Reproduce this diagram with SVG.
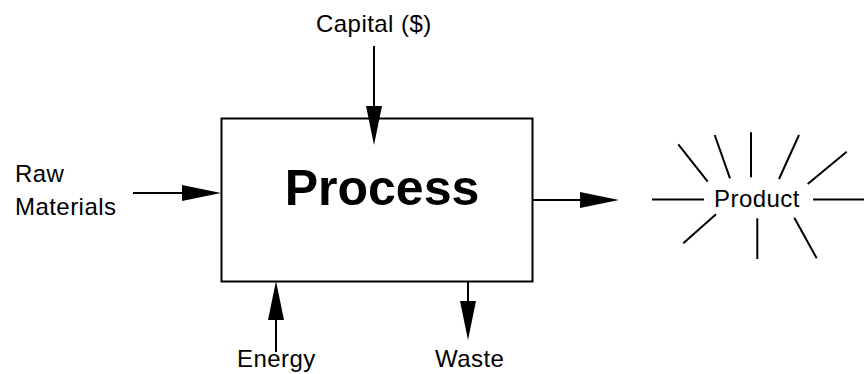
<svg xmlns="http://www.w3.org/2000/svg" width="865" height="374" viewBox="0 0 865 374">
<defs>
<style>
.lbl{font-family:"Liberation Sans",Arial,sans-serif;font-size:24px;letter-spacing:0.45px;fill:#000}
.title{font-family:"Liberation Sans",Arial,sans-serif;font-size:50px;font-weight:bold;fill:#000}
.ln{stroke:#000;stroke-width:2;fill:none}
</style>
<marker id="arrow" viewBox="0 0 39 16" refX="29" refY="8" markerWidth="39" markerHeight="16" markerUnits="userSpaceOnUse" orient="auto">
<path d="M0,0 L39,8 L0,16 Z" fill="#000"/>
</marker>
</defs>
<rect width="865" height="374" fill="#fff"/>
<g id="process">
<rect x="221.5" y="118.5" width="311" height="163" class="ln"/>
<text x="382" y="205" text-anchor="middle" class="title">Process</text>
</g>
<g id="capital"><text x="316" y="32" class="lbl">Capital ($)</text></g>
<g id="raw-materials"><text x="15" y="182" class="lbl">Raw</text><text x="15" y="215" class="lbl">Materials</text></g>
<g id="energy"><text x="237" y="367" class="lbl">Energy</text></g>
<g id="waste"><text x="435" y="367" class="lbl">Waste</text></g>
<g id="product">
<text x="714" y="207" class="lbl">Product</text>
<g class="ln">
<line x1="652" y1="199.5" x2="704" y2="199.5"/>
<line x1="813" y1="199.5" x2="864" y2="199.5"/>
<line x1="678.3" y1="144.3" x2="707.7" y2="181.7"/>
<line x1="714.7" y1="135" x2="730" y2="178.3"/>
<line x1="751" y1="132.3" x2="751" y2="177.3"/>
<line x1="799" y1="135" x2="779" y2="179"/>
<line x1="846.7" y1="151.7" x2="807.7" y2="184"/>
<line x1="716" y1="214.3" x2="683.3" y2="243.3"/>
<line x1="757.3" y1="218.3" x2="757.3" y2="259"/>
<line x1="794.3" y1="217.7" x2="816.7" y2="258.3"/>
</g>
</g>
<g id="connectors" class="ln">
<line x1="374" y1="46" x2="374" y2="135" marker-end="url(#arrow)"/>
<line x1="133" y1="193" x2="211" y2="193" marker-end="url(#arrow)"/>
<line x1="533" y1="200" x2="609" y2="200" marker-end="url(#arrow)"/>
<line x1="276" y1="352" x2="276" y2="291" marker-end="url(#arrow)"/>
<line x1="468" y1="282" x2="468" y2="330" marker-end="url(#arrow)"/>
</g>
</svg>
